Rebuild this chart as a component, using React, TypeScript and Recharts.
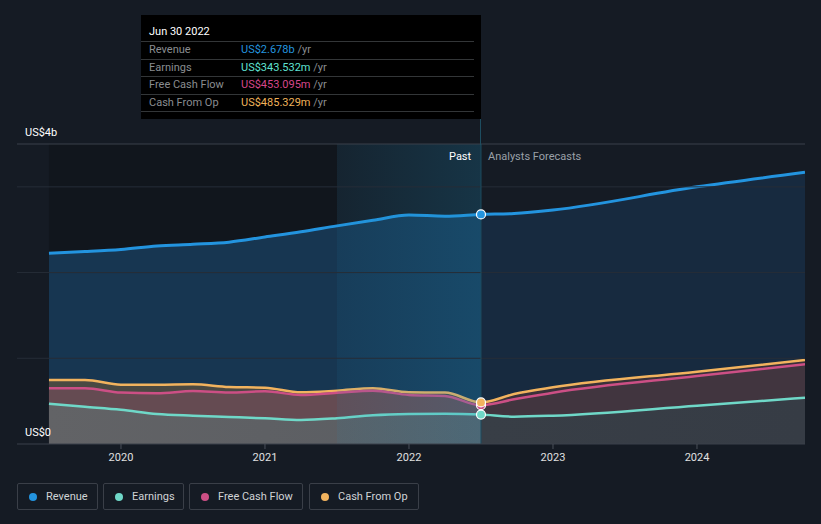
import React from "react";
import { ComposedChart, Area, XAxis, YAxis, ReferenceLine, ReferenceArea, ReferenceDot } from "recharts";

const years = [2019.5, 2019.75, 2020, 2020.25, 2020.5, 2020.75, 2021, 2021.25, 2021.5, 2021.75, 2022, 2022.25, 2022.5, 2022.73, 2023, 2024, 2024.75];
const revenue = [2.225, 2.245, 2.27, 2.31, 2.33, 2.355, 2.415, 2.475, 2.545, 2.61, 2.672, 2.657, 2.678, 2.69, 2.73, 3.0, 3.17];
const earnings = [0.47, 0.435, 0.4, 0.35, 0.33, 0.315, 0.3, 0.28, 0.3, 0.335, 0.35, 0.354, 0.3435, 0.319, 0.33, 0.447, 0.54];
const freeCashFlow = [0.65, 0.65, 0.6, 0.591, 0.618, 0.6, 0.615, 0.572, 0.599, 0.622, 0.572, 0.56, 0.453, 0.521, 0.599, 0.793, 0.93];
const cashFromOp = [0.747, 0.747, 0.692, 0.692, 0.696, 0.665, 0.657, 0.603, 0.622, 0.65, 0.603, 0.6, 0.485, 0.583, 0.661, 0.844, 0.98];
const xTicks = [2020, 2021, 2022, 2023, 2024];
const gridValues = [1, 2, 3, 3.5];
const nowX = 2022.5;

const data = years.map((t, i) => ({
  t,
  revenue: revenue[i],
  earnings: earnings[i],
  fcf: freeCashFlow[i],
  cfo: cashFromOp[i],
}));

const C = {
  revenue: "#2394df",
  earnings: "#6fd8c8",
  fcf: "#cc4f85",
  cfo: "#f2b35e",
};

const FONT = "Roboto, 'Noto Sans', sans-serif";
const split = 0.572;

function Grad({ id, past, future }: { id: string; past: string; future: string }) {
  return (
    <linearGradient id={id} x1="0" y1="0" x2="1" y2="0">
      <stop offset="0" stopColor={past} />
      <stop offset={split} stopColor={past} />
      <stop offset={split} stopColor={future} />
      <stop offset="1" stopColor={future} />
    </linearGradient>
  );
}

const legendItems = [
  { name: "Revenue", color: C.revenue, left: 17, width: 81 },
  { name: "Earnings", color: C.earnings, left: 103, width: 81 },
  { name: "Free Cash Flow", color: C.fcf, left: 189, width: 114 },
  { name: "Cash From Op", color: C.cfo, left: 309, width: 110 },
];

const tooltipRows = [
  { label: "Revenue", value: "US$2.678b", color: "#2394df" },
  { label: "Earnings", value: "US$343.532m", color: "#5fe3d3" },
  { label: "Free Cash Flow", value: "US$453.095m", color: "#d6468a" },
  { label: "Cash From Op", value: "US$485.329m", color: "#f0b35a" },
];

export default function App() {
  return (
    <div style={{ position: "absolute", left: 0, top: 0, width: 821, height: 524, background: "#151b24", fontFamily: FONT, overflow: "hidden" }}>
      <ComposedChart width={821} height={524} data={data} margin={{ top: 144, right: 16, bottom: 50, left: 17 }}>
        <defs>
          <Grad id="gRev" past="#173651" future="#172a3f" />
          <Grad id="gCfo" past="#4a4942" future="#3a3139" />
          <Grad id="gFcf" past="#654b52" future="#41353f" />
          <linearGradient id="gEarn" x1="0" y1="0" x2="1" y2="0">
            <stop offset="0" stopColor="#626366" />
            <stop offset={split} stopColor="#5a5d62" />
            <stop offset={split} stopColor="#383e46" />
            <stop offset="1" stopColor="#363c45" />
          </linearGradient>
          <linearGradient id="gPast" x1="0" y1="0" x2="1" y2="0">
            <stop offset="0" stopColor="#1b8fbf" stopOpacity={0.08} />
            <stop offset="1" stopColor="#1b8fbf" stopOpacity={0.22} />
          </linearGradient>
        </defs>
        <XAxis
          dataKey="t"
          type="number"
          domain={[2019.278, 2024.75]}
          ticks={xTicks}
          tickFormatter={(v) => String(v)}
          axisLine={{ stroke: "#3a404a" }}
          tickLine={{ stroke: "#4a505a" }}
          tickSize={5}
          tickMargin={4}
          tick={{ fill: "#e0e0e0", fontSize: 11, fontFamily: FONT }}
          height={30}
          allowDataOverflow
        />
        <YAxis hide type="number" domain={[0, 3.5]} allowDataOverflow />
        <ReferenceArea x1={2019.5} x2={2021.5} y1={0} y2={3.5} fill="#000000" fillOpacity={0.18} stroke="none" />
        {gridValues.map((v) => (
          <ReferenceLine key={v} y={v} stroke={v === 3.5 ? "#3a404a" : "#262d37"} strokeWidth={1} />
        ))}
        <Area type="monotone" dataKey="revenue" stroke={C.revenue} strokeWidth={3} fill="url(#gRev)" fillOpacity={1} isAnimationActive={false} dot={false} activeDot={false} />
        <Area type="monotone" dataKey="cfo" stroke={C.cfo} strokeWidth={2.5} fill="url(#gCfo)" fillOpacity={1} isAnimationActive={false} dot={false} activeDot={false} />
        <Area type="monotone" dataKey="fcf" stroke={C.fcf} strokeWidth={2.5} fill="url(#gFcf)" fillOpacity={1} isAnimationActive={false} dot={false} activeDot={false} />
        <Area type="monotone" dataKey="earnings" stroke={C.earnings} strokeWidth={2.5} fill="url(#gEarn)" fillOpacity={1} isAnimationActive={false} dot={false} activeDot={false} />
        <ReferenceArea x1={2021.5} x2={nowX} y1={0} y2={3.5} fill="url(#gPast)" fillOpacity={1} stroke="none" />
        <ReferenceLine x={nowX} stroke="#1d4d60" strokeWidth={1} />
        <ReferenceDot x={nowX} y={revenue[12]} r={4.5} fill={C.revenue} stroke="#ffffff" strokeWidth={1.2} />
        <ReferenceDot x={nowX} y={freeCashFlow[12]} r={4.5} fill={C.fcf} stroke="#ffffff" strokeWidth={1.2} />
        <ReferenceDot x={nowX} y={cashFromOp[12]} r={4.5} fill={C.cfo} stroke="#ffffff" strokeWidth={1.2} />
        <ReferenceDot x={nowX} y={earnings[12]} r={4.5} fill={C.earnings} stroke="#ffffff" strokeWidth={1.2} />
      </ComposedChart>

      <div style={{ position: "absolute", left: 480, top: 119, width: 1, height: 26, background: "#1d4d60" }} />

      <div style={{ position: "absolute", left: 25, top: 126, fontSize: 11, color: "#ffffff" }}>US$4b</div>
      <div style={{ position: "absolute", left: 25, top: 426, fontSize: 11, color: "#ffffff" }}>US$0</div>
      <div style={{ position: "absolute", left: 449, top: 150, fontSize: 11, color: "#ffffff" }}>Past</div>
      <div style={{ position: "absolute", left: 488, top: 150, fontSize: 11, color: "#9aa0a8" }}>Analysts Forecasts</div>

      <div style={{ position: "absolute", left: 141, top: 15, width: 340, height: 104, background: "#000000" }}>
        <div style={{ position: "absolute", left: 8, top: 10, fontSize: 11, color: "#ffffff" }}>Jun 30 2022</div>
        {tooltipRows.map((r, i) => (
          <div key={r.label}>
            <div style={{ position: "absolute", left: 0, top: 26 + i * 17.5, width: 333, height: 1, background: "#333638" }} />
            <div style={{ position: "absolute", left: 8, top: 27 + i * 17.5, fontSize: 11, lineHeight: "16px", color: "#8a8d90" }}>{r.label}</div>
            <div style={{ position: "absolute", left: 100, top: 27 + i * 17.5, fontSize: 11, lineHeight: "16px", color: r.color, whiteSpace: "nowrap" }}>
              {r.value} <span style={{ color: "#8a8d90" }}>/yr</span>
            </div>
          </div>
        ))}
        <div style={{ position: "absolute", left: 0, top: 96, width: 333, height: 1, background: "#333638" }} />
      </div>

      {legendItems.map((it) => (
        <div key={it.name} style={{ position: "absolute", left: it.left, top: 483, width: it.width, height: 27, boxSizing: "border-box", border: "1px solid #3a3f48", borderRadius: 2, display: "flex", alignItems: "center" }}>
          <span style={{ display: "inline-block", width: 8, height: 8, borderRadius: 4, background: it.color, marginLeft: 11, marginRight: 9 }} />
          <span style={{ fontSize: 11, color: "#d0d3d6" }}>{it.name}</span>
        </div>
      ))}
    </div>
  );
}
